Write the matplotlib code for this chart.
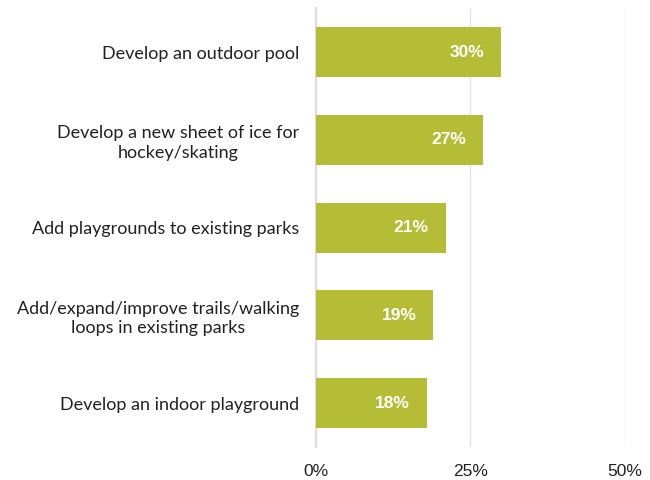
import matplotlib.pyplot as plt

# Survey results: share of respondents choosing each amenity
categories = [
    "Develop an outdoor pool",
    "Develop a new sheet of ice for\nhockey/skating",
    "Add playgrounds to existing parks",
    "Add/expand/improve trails/walking\nloops in existing parks",
    "Develop an indoor playground",
]
shares = [30, 27, 21, 19, 18]
x_ticks = [0, 25, 50]
x_tick_labels = ["0%", "25%", "50%"]

bar_color = "#b5bd36"

fig = plt.figure(figsize=(6.5, 4.8), dpi=100)
ax = fig.add_axes([0.486, 0.069, 0.4755, 0.914])

y = list(range(len(categories)))
ax.barh(y, shares, height=0.57, color=bar_color, zorder=3)

for yi, v in zip(y, shares):
    ax.annotate(f"{v}%", xy=(v, yi), xytext=(-17, 0), textcoords="offset pixels",
                ha="right", va="center", color="white", fontsize=12.5,
                fontweight="bold", family="Liberation Sans", zorder=4)

ax.set_xlim(0, 50)
ax.set_ylim(len(categories) - 0.5, -0.5)
ax.set_xticks(x_ticks)
ax.set_xticklabels(x_tick_labels, family="Liberation Sans", fontsize=12.5, color="#222222")
ax.set_yticks(y)
ax.set_yticklabels(categories, family="Lato", fontsize=13, color="#222222",
                   multialignment="center", linespacing=1.25)
ax.tick_params(axis="both", length=0)
ax.tick_params(axis="x", pad=12)
ax.tick_params(axis="y", pad=12)

ax.grid(axis="x", color="#e2e2e2", linewidth=1, zorder=0)
for s in ["top", "right", "bottom"]:
    ax.spines[s].set_visible(False)
ax.spines["left"].set_color("#dcdcdc")
ax.spines["left"].set_linewidth(1.5)

fig.savefig("out.png", dpi=100)
